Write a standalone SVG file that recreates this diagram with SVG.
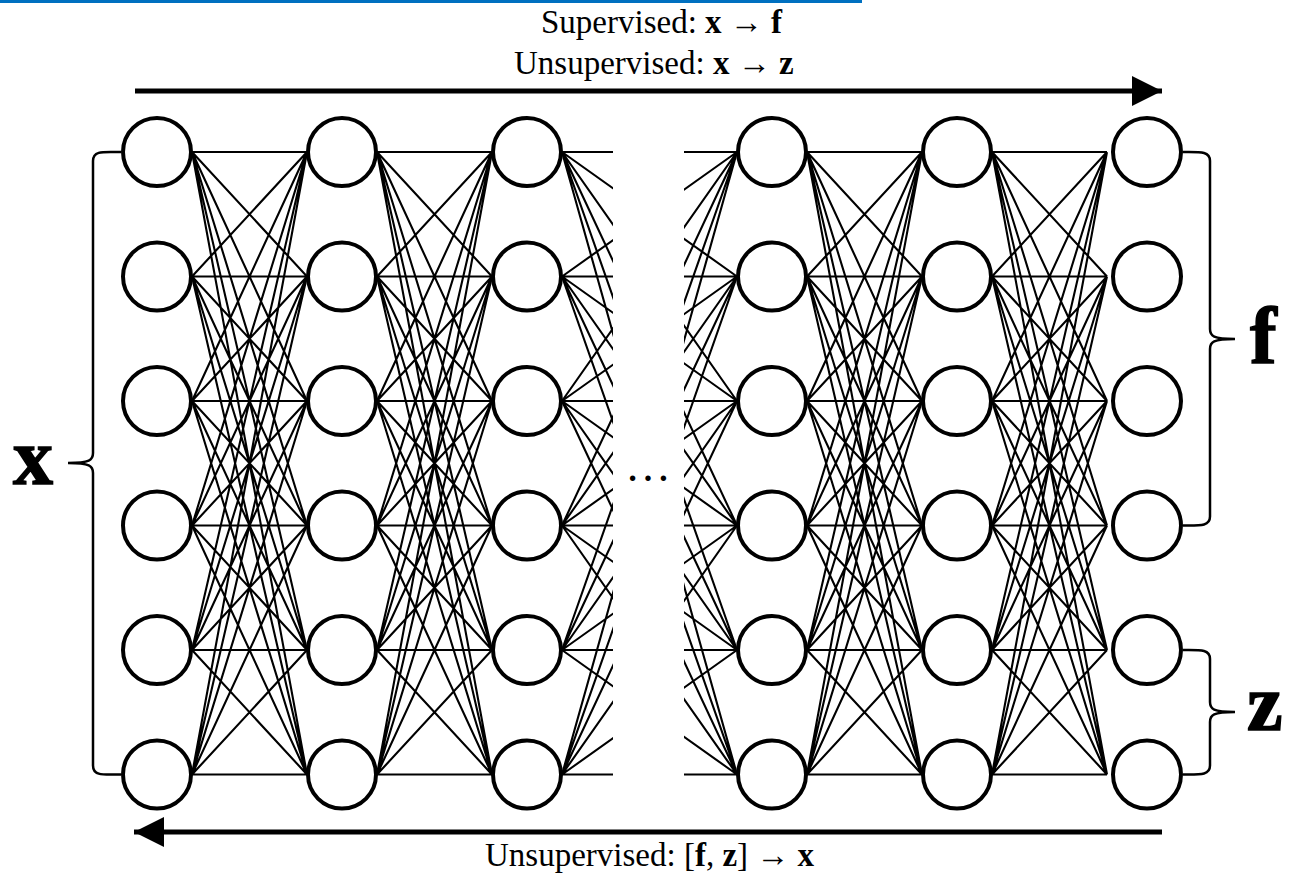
<svg xmlns="http://www.w3.org/2000/svg" width="1291" height="878" viewBox="0 0 1291 878">
<style>
.node{fill:#fff;stroke:#000;stroke-width:4}
.edge{fill:none;stroke:#000;stroke-width:2.1}
.brace{fill:none;stroke:#000;stroke-width:2.5}
.arrow{stroke:#000;stroke-width:5}
.cap{font-family:"Liberation Serif","Times New Roman",serif;font-size:33px;fill:#000}
.big{font-family:"Liberation Serif","Times New Roman",serif;font-size:80px;font-weight:bold;fill:#000;stroke:#000;stroke-width:1.5}
</style>
<defs>
<path id="mesh" class="edge" d="M0 152L115 152M0 152L115 276.5M0 152L115 401M0 152L115 525.5M0 152L115 650M0 152L115 774.5M0 276.5L115 152M0 276.5L115 276.5M0 276.5L115 401M0 276.5L115 525.5M0 276.5L115 650M0 276.5L115 774.5M0 401L115 152M0 401L115 276.5M0 401L115 401M0 401L115 525.5M0 401L115 650M0 401L115 774.5M0 525.5L115 152M0 525.5L115 276.5M0 525.5L115 401M0 525.5L115 525.5M0 525.5L115 650M0 525.5L115 774.5M0 650L115 152M0 650L115 276.5M0 650L115 401M0 650L115 525.5M0 650L115 650M0 650L115 774.5M0 774.5L115 152M0 774.5L115 276.5M0 774.5L115 401M0 774.5L115 525.5M0 774.5L115 650M0 774.5L115 774.5"/>
<path id="wide" class="edge" d="M0 152L175 152M0 152L175 276.5M0 152L175 401M0 152L175 525.5M0 152L175 650M0 152L175 774.5M0 276.5L175 152M0 276.5L175 276.5M0 276.5L175 401M0 276.5L175 525.5M0 276.5L175 650M0 276.5L175 774.5M0 401L175 152M0 401L175 276.5M0 401L175 401M0 401L175 525.5M0 401L175 650M0 401L175 774.5M0 525.5L175 152M0 525.5L175 276.5M0 525.5L175 401M0 525.5L175 525.5M0 525.5L175 650M0 525.5L175 774.5M0 650L175 152M0 650L175 276.5M0 650L175 401M0 650L175 525.5M0 650L175 650M0 650L175 774.5M0 774.5L175 152M0 774.5L175 276.5M0 774.5L175 401M0 774.5L175 525.5M0 774.5L175 650M0 774.5L175 774.5"/>
<marker id="head" markerWidth="6" markerHeight="6" refX="5.4" refY="2.7" orient="auto" markerUnits="strokeWidth" viewBox="0 0 5.4 5.4">
<path d="M0 0L5.4 2.7L0 5.4Z" fill="#000"/>
</marker>
</defs>
<line x1="0" y1="1.5" x2="862" y2="1.5" stroke="#0070C0" stroke-width="3"/>
<g id="connectors">
<use href="#mesh" transform="translate(192,0)"/>
<use href="#mesh" transform="translate(377,0)"/>
<use href="#wide" transform="translate(562,0)"/>
<use href="#mesh" transform="translate(807,0)"/>
<use href="#mesh" transform="translate(992,0)"/>
<rect x="613" y="120" width="71" height="680" fill="#fff"/>
<line class="arrow" x1="135" y1="91" x2="1162" y2="91" marker-end="url(#head)"/>
<line class="arrow" x1="1162" y1="832" x2="134" y2="832" marker-end="url(#head)"/>
</g>
<g id="col1">
<circle class="node" cx="157" cy="152" r="34"/><circle class="node" cx="157" cy="276.5" r="34"/><circle class="node" cx="157" cy="401" r="34"/><circle class="node" cx="157" cy="525.5" r="34"/><circle class="node" cx="157" cy="650" r="34"/><circle class="node" cx="157" cy="774.5" r="34"/>
</g>
<g id="col2">
<circle class="node" cx="342" cy="152" r="34"/><circle class="node" cx="342" cy="276.5" r="34"/><circle class="node" cx="342" cy="401" r="34"/><circle class="node" cx="342" cy="525.5" r="34"/><circle class="node" cx="342" cy="650" r="34"/><circle class="node" cx="342" cy="774.5" r="34"/>
</g>
<g id="col3">
<circle class="node" cx="527" cy="152" r="34"/><circle class="node" cx="527" cy="276.5" r="34"/><circle class="node" cx="527" cy="401" r="34"/><circle class="node" cx="527" cy="525.5" r="34"/><circle class="node" cx="527" cy="650" r="34"/><circle class="node" cx="527" cy="774.5" r="34"/>
</g>
<g id="col4">
<circle class="node" cx="772" cy="152" r="34"/><circle class="node" cx="772" cy="276.5" r="34"/><circle class="node" cx="772" cy="401" r="34"/><circle class="node" cx="772" cy="525.5" r="34"/><circle class="node" cx="772" cy="650" r="34"/><circle class="node" cx="772" cy="774.5" r="34"/>
</g>
<g id="col5">
<circle class="node" cx="957" cy="152" r="34"/><circle class="node" cx="957" cy="276.5" r="34"/><circle class="node" cx="957" cy="401" r="34"/><circle class="node" cx="957" cy="525.5" r="34"/><circle class="node" cx="957" cy="650" r="34"/><circle class="node" cx="957" cy="774.5" r="34"/>
</g>
<g id="col6">
<circle class="node" cx="1147" cy="152" r="34"/><circle class="node" cx="1147" cy="276.5" r="34"/><circle class="node" cx="1147" cy="401" r="34"/><circle class="node" cx="1147" cy="525.5" r="34"/><circle class="node" cx="1147" cy="650" r="34"/><circle class="node" cx="1147" cy="774.5" r="34"/>
</g>
<g id="ellipsis"><text class="cap" x="648" y="481" text-anchor="middle" style="font-size:46px">…</text></g>
<g id="brace-x">
<path class="brace" d="M121 152C104 152 93 150 93 161L93 453C93 460 90 463 68 463M121 774.5C104 774.5 93 776.5 93 765.5L93 473C93 466 90 463 68 463"/>
<text class="big" x="13" y="484">x</text>
</g>
<g id="brace-f">
<path class="brace" d="M1183 152C1200 152 1210 151 1210 161L1210 329C1210 336 1213 339 1235 339M1183 525.5C1200 525.5 1210 526.5 1210 516.5L1210 349C1210 342 1213 339 1235 339"/>
<text class="big" x="1250" y="363">f</text>
</g>
<g id="brace-z">
<path class="brace" d="M1183 650C1200 650 1210 649 1210 659L1210 702C1210 709 1213 712 1235 712M1183 774.5C1200 774.5 1210 775.5 1210 765.5L1210 722C1210 715 1213 712 1235 712"/>
<text class="big" x="1247" y="730">z</text>
</g>
<g id="labels">
<text class="cap" x="541" y="33">Supervised: <tspan font-weight="bold">x</tspan> → <tspan font-weight="bold">f</tspan></text>
<text class="cap" x="514" y="74">Unsupervised: <tspan font-weight="bold">x</tspan> → <tspan font-weight="bold">z</tspan></text>
<text class="cap" x="485" y="866">Unsupervised: [<tspan font-weight="bold">f</tspan>, <tspan font-weight="bold">z</tspan>] → <tspan font-weight="bold">x</tspan></text>
</g>
</svg>
